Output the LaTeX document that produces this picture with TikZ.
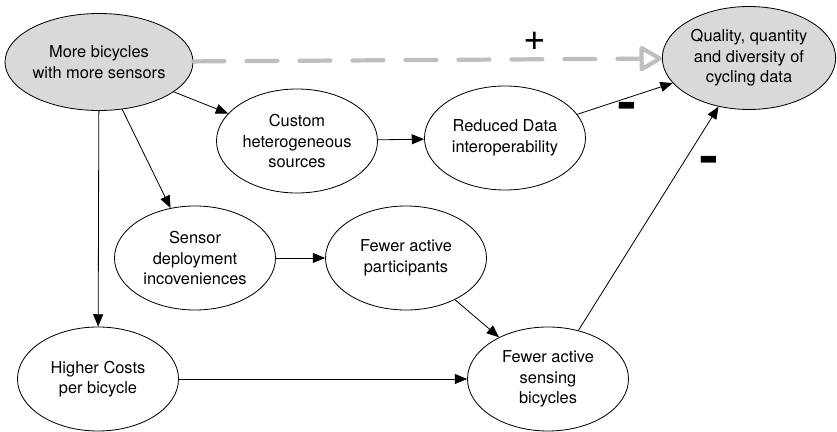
\documentclass[tikz,border=0pt]{standalone}
\usepackage{fontspec}
\setmainfont{TeX Gyre Heros}
\usetikzlibrary{shapes.geometric,arrows.meta}
\begin{document}
\begin{tikzpicture}[x=0.03cm,y=-0.03cm,
        etat/.style={ellipse, draw, line width=0.7pt, inner sep=0pt,
            minimum width=4.83cm, minimum height=3.12cm, align=center,
            font=\fontsize{14}{17.5}\selectfont},
        cle/.style={etat, fill=black!15},
        fleche/.style={-{Triangle[length=3.7mm,width=3mm]}, line width=0.7pt},
        moins/.style={font=\bfseries\fontsize{23}{23}\selectfont}]
        \useasboundingbox (0,0) rectangle (837,432);
        % Noeuds
        \node[cle, minimum width=5.64cm, minimum height=2.91cm] (velos) at (99,62) {More bicycles\\with more sensors};
        \node[cle, minimum width=5.2cm, minimum height=3.09cm] (qualite) at (749,58) {Quality, quantity\\and diversity of\\cycling data};
        \node[etat] (sources) at (297,141) {Custom\\heterogeneous\\sources};
        \node[etat] (interop) at (505,138) {Reduced Data\\interoperability};
        \node[etat] (deploiement) at (195,258) {Sensor\\deployment\\incoveniences};
        \node[etat] (participants) at (406,258) {Fewer active\\participants};
        \node[etat] (couts) at (98,379) {Higher Costs\\per bicycle};
        \node[etat] (actifs) at (548,379) {Fewer active\\sensing\\bicycles};
        % Lien positif
        \draw[black!25, line width=3.6pt, line cap=round, dash pattern=on 0.93cm off 0.66cm,
            -{Triangle[open,round,length=0.74cm,width=0.82cm]}] (velos) -- (qualite);
        \node[font=\fontsize{33}{33}\selectfont] (plus) at (535,41) {+};
        % Liens
        \draw[fleche] (velos) -- (sources);
        \draw[fleche] (velos) -- (deploiement);
        \draw[fleche] (velos) -- (couts);
        \draw[fleche] (sources) -- (interop);
        \draw[fleche] (deploiement) -- (participants);
        \draw[fleche] (participants) -- (actifs);
        \draw[fleche] (couts) -- (actifs);
        \draw[fleche] (interop) -- (qualite);
        \draw[fleche] (actifs) -- (qualite);
        % Signes negatifs
        \node[moins] (moinsA) at (627,112) {\scalebox{1}[2.4]{--}};
        \node[moins] (moinsB) at (709,166) {\scalebox{1}[2.4]{--}};
    \end{tikzpicture}
\end{document}
